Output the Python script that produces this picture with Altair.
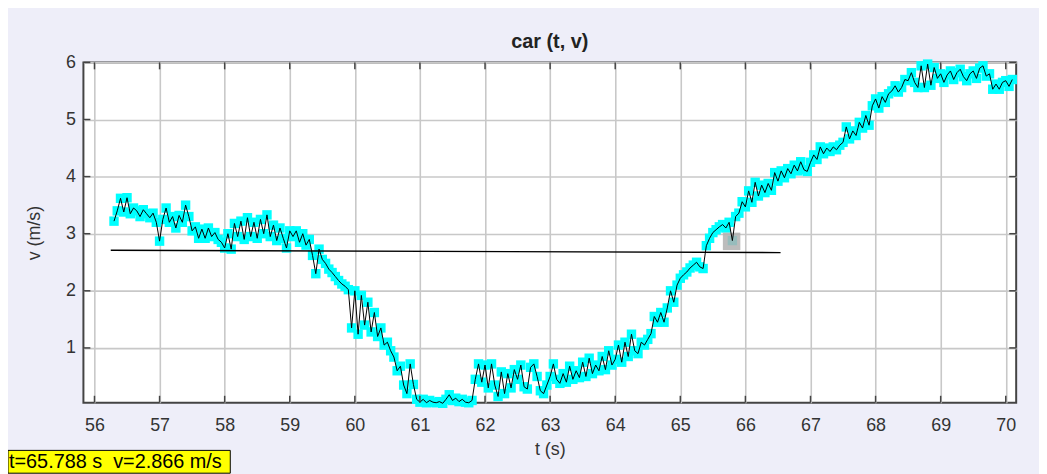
import altair as alt
import pandas as pd

# ---------------- data ----------------
# velocity samples, one list per second of time, sampled every 0.05 s
v56 = [3.22, 3.40, 3.62, 3.38, 3.63, 3.35, 3.45, 3.40, 3.30, 3.42, 3.35, 3.28, 3.36, 3.20]  # starts 56.30
v57 = [2.87, 3.25, 3.45, 3.20, 3.30, 3.10, 3.32, 3.20, 3.50, 3.30, 3.05, 3.12, 2.92, 3.08, 2.92, 3.10, 2.95, 3.02, 2.90, 2.85]
v58 = [2.75, 3.00, 2.73, 3.18, 2.95, 3.22, 2.90, 3.28, 2.95, 3.20, 2.92, 3.25, 3.00, 3.33, 2.95, 3.15, 2.88, 3.10, 2.92, 2.75]
v59 = [3.05, 2.95, 3.05, 2.85, 3.00, 2.80, 2.90, 2.62, 2.30, 2.73, 2.55, 2.48, 2.38, 2.32, 2.25, 2.18, 2.12, 2.08, 2.02, 1.35]
v60 = [2.00, 1.24, 1.92, 1.40, 1.80, 1.28, 1.62, 1.20, 1.35, 1.05, 1.10, 0.95, 0.84, 0.60, 0.68, 0.35, 0.20, 0.72, 0.36, 0.10]
v61 = [0.05, 0.10, 0.04, 0.08, 0.05, 0.04, 0.06, 0.03, 0.10, 0.18, 0.08, 0.12, 0.06, 0.10, 0.05, 0.04, 0.08, 0.45, 0.72, 0.40]
v62 = [0.70, 0.30, 0.72, 0.35, 0.15, 0.58, 0.20, 0.55, 0.30, 0.62, 0.45, 0.70, 0.32, 0.28, 0.66, 0.72, 0.50, 0.25, 0.20, 0.35]
v63 = [0.50, 0.72, 0.45, 0.38, 0.55, 0.40, 0.68, 0.45, 0.60, 0.48, 0.75, 0.50, 0.82, 0.55, 0.70, 0.60, 0.85, 0.62, 0.95, 0.70]
v64 = [0.80, 1.05, 0.75, 1.10, 0.85, 1.24, 0.95, 0.90, 1.10, 1.05, 1.15, 1.25, 1.55, 1.45, 1.62, 1.45, 1.70, 2.00, 1.80, 2.10]
v65 = [2.22, 2.28, 2.33, 2.40, 2.45, 2.50, 2.42, 2.39, 2.79, 2.92, 3.02, 3.07, 3.12, 3.16, 3.10, 3.20, 2.88, 3.30, 3.36, 3.56]
v66 = [3.47, 3.75, 3.55, 3.90, 3.66, 3.85, 3.72, 3.88, 3.76, 4.07, 3.92, 4.10, 3.98, 4.14, 4.05, 4.20, 4.10, 4.26, 4.12, 4.09]
v67 = [4.25, 4.38, 4.30, 4.52, 4.40, 4.50, 4.44, 4.52, 4.47, 4.55, 4.60, 4.87, 4.66, 4.80, 4.72, 4.95, 4.85, 5.07, 4.90, 5.24]
v68 = [5.36, 5.20, 5.40, 5.30, 5.45, 5.50, 5.59, 5.48, 5.56, 5.70, 5.68, 5.82, 5.65, 5.56, 5.94, 5.56, 5.97, 5.60, 5.91, 5.72]
v69 = [5.80, 5.65, 5.78, 5.85, 5.70, 5.82, 5.88, 5.75, 5.68, 5.80, 5.85, 5.72, 5.90, 5.94, 5.76, 5.80, 5.53, 5.62, 5.53, 5.65]
v70 = [5.68, 5.58, 5.70]

segments = [(56.30, v56), (57.0, v57), (58.0, v58), (59.0, v59), (60.0, v60), (61.0, v61),
            (62.0, v62), (63.0, v63), (64.0, v64), (65.0, v65), (66.0, v66), (67.0, v67),
            (68.0, v68), (69.0, v69), (70.0, v70)]
STEP = 0.05

# reference line drawn across the plot
ref_t = [56.25, 66.54]
ref_v = [2.71, 2.67]

# selected point and its read-out
sel_t = [65.788]
sel_v = [2.866]
readout = ["t=65.788 s\u00a0 v=2.866 m/s"]

title_text = "car (t, v)"
x_title = "t (s)"
y_title = "v (m/s)"
x_ticks = list(range(56, 71))
y_ticks = [1, 2, 3, 4, 5, 6]
X_DOMAIN = [55.83, 70.16]
Y_DOMAIN = [0.04, 6.0]

# ---------------- build tables ----------------
rows_t, rows_v = [], []
for start, vals in segments:
    for k, val in enumerate(vals):
        rows_t.append(round(start + STEP * k, 3))
        rows_v.append(val)
df = pd.DataFrame({"t": rows_t, "v": rows_v})
df_ref = pd.DataFrame({"t": ref_t, "v": ref_v})
df_sel = pd.DataFrame({"t": sel_t, "v": sel_v})
df_xt = pd.DataFrame({"t": x_ticks})
df_yt = pd.DataFrame({"v": y_ticks})
df_lab = pd.DataFrame({"label": readout})

W, H = 940, 343
FONT = "Liberation Sans, Arial, sans-serif"
TXT = "#333333"
FRAME = "#444444"

xs = alt.Scale(domain=X_DOMAIN, nice=False, zero=False)
ys = alt.Scale(domain=Y_DOMAIN, nice=False, zero=False)

x_axis = alt.Axis(values=x_ticks, grid=True, gridColor="#c8c8c8", gridWidth=1.6,
                  ticks=False, domain=False, labelFontSize=18, labelColor=TXT,
                  labelFont=FONT, labelPadding=14, labelFlush=False, labelOverlap=False,
                  title=x_title, titleFont=FONT, titleFontSize=18, titleFontWeight="normal",
                  titleColor=TXT, titlePadding=6)
y_axis = alt.Axis(values=y_ticks, grid=True, gridColor="#c8c8c8", gridWidth=1.6,
                  ticks=False, domain=False, labelFontSize=18, labelColor=TXT,
                  labelFont=FONT, labelPadding=8, labelFlush=False, labelOverlap=False,
                  title=y_title, titleFont=FONT, titleFontSize=18, titleFontWeight="normal",
                  titleColor=TXT, titlePadding=22)

X = alt.X("t:Q", scale=xs, axis=x_axis)
Y = alt.Y("v:Q", scale=ys, axis=y_axis)

points = alt.Chart(df).mark_square(size=90, color="#00FFFF", opacity=1).encode(x=X, y=Y)
sel = alt.Chart(df_sel).mark_square(size=310, color="#b0b0b0", opacity=0.85).encode(x=X, y=Y)
line = alt.Chart(df).mark_line(color="black", strokeWidth=1).encode(x=X, y=Y, order="t:Q")
ref = alt.Chart(df_ref).mark_line(color="black", strokeWidth=1.3).encode(x=X, y=Y)

tick_b = alt.Chart(df_xt).mark_rule(color=FRAME, strokeWidth=1.5).encode(
    x=X, y=alt.value(H), y2=alt.value(H - 7))
tick_t = alt.Chart(df_xt).mark_rule(color=FRAME, strokeWidth=1.5).encode(
    x=X, y=alt.value(0), y2=alt.value(7))
tick_l = alt.Chart(df_yt).mark_rule(color=FRAME, strokeWidth=1.5).encode(
    y=Y, x=alt.value(0), x2=alt.value(7))
tick_r = alt.Chart(df_yt).mark_rule(color=FRAME, strokeWidth=1.5).encode(
    y=Y, x=alt.value(W - 7), x2=alt.value(W))

box = alt.Chart(df_lab).mark_rect(fill="#FFFF00", stroke="black", strokeWidth=1).encode(
    x=alt.value(-76), x2=alt.value(148), y=alt.value(391), y2=alt.value(414))
box_txt = alt.Chart(df_lab).mark_text(align="left", baseline="middle", fontSize=20,
                                      font=FONT, color="black").encode(
    x=alt.value(-75), y=alt.value(403), text="label:N")

chart = alt.layer(points, sel, line, ref, tick_b, tick_t, tick_l, tick_r, box, box_txt).properties(
    width=W, height=H,
    title=alt.TitleParams(title_text, fontSize=20, fontWeight="bold", font=FONT,
                          color="#222222", anchor="middle", frame="group", offset=2),
    background="#EEEEF9",
    padding={"left": 76, "top": 53, "right": 23, "bottom": 70},
    autosize=alt.AutoSizeParams(type="none"),
).configure_view(fill="white", stroke=FRAME, strokeWidth=2)

chart.save("out.html", embed_options={"renderer": "svg", "actions": False})
